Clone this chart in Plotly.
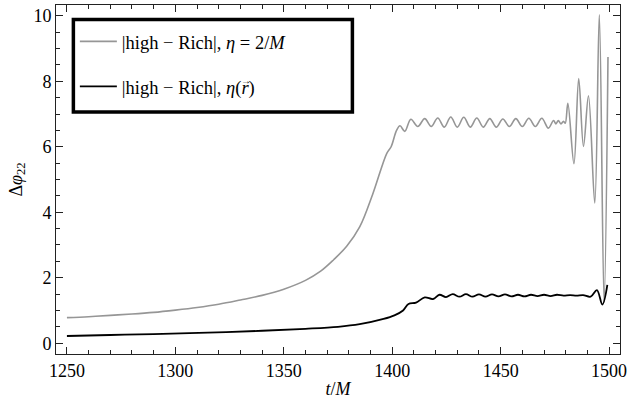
import plotly.graph_objects as go

# Gray series: |high - Rich|, eta = 2/M
t_gray = [1250, 1260, 1270, 1280, 1290, 1300, 1310, 1320, 1330, 1340, 1350, 1360,
          1367, 1373, 1379, 1385, 1391, 1397.5, 1399.5, 1402, 1403.6, 1405.8, 1408.6,
          1411.8, 1415, 1418, 1421, 1424, 1427, 1430, 1433, 1436, 1439, 1442, 1445,
          1448, 1451, 1454, 1457, 1460, 1463, 1466, 1469, 1472, 1474.4, 1475.5, 1476.6,
          1477.8, 1479, 1479.8, 1481, 1483.8, 1486, 1488.2, 1490.5, 1493.4, 1495.5,
          1497.7, 1499.5]
v_gray = [0.78, 0.81, 0.85, 0.89, 0.94, 1.01, 1.09, 1.19, 1.32, 1.46, 1.65, 1.92,
          2.2, 2.55, 2.96, 3.55, 4.55, 5.8, 6.0, 6.5, 6.64, 6.47, 6.84,
          6.62, 6.86, 6.62, 6.88, 6.6, 6.91, 6.6, 6.9, 6.6, 6.88, 6.6, 6.86,
          6.6, 6.85, 6.62, 6.86, 6.62, 6.87, 6.62, 6.87, 6.57, 6.8, 6.7, 6.8,
          6.7, 6.78, 6.72, 7.33, 5.48, 8.08, 6.01, 7.56, 4.28, 10.03,
          1.25, 8.74]

# Black series: |high - Rich|, eta(r)
t_black = [1250, 1270, 1290, 1315, 1340, 1360, 1375, 1385, 1396, 1401, 1405, 1407.5,
           1411, 1415, 1418.8, 1421.8, 1424.8, 1427.9, 1431, 1434, 1437, 1440, 1443,
           1446, 1449, 1452, 1455, 1458, 1461, 1464, 1467, 1470, 1473, 1476, 1479,
           1482, 1485, 1488, 1491.5, 1494.4, 1496.9, 1499.2]
v_black = [0.22, 0.25, 0.28, 0.32, 0.38, 0.44, 0.5, 0.58, 0.74, 0.85, 1.0, 1.2,
           1.24, 1.4, 1.35, 1.48, 1.41, 1.5, 1.42, 1.5, 1.42, 1.49, 1.42,
           1.49, 1.43, 1.49, 1.43, 1.48, 1.43, 1.48, 1.44, 1.48, 1.44, 1.48, 1.45,
           1.47, 1.45, 1.47, 1.42, 1.62, 1.18, 1.78]

x_ticks = [1250, 1300, 1350, 1400, 1450, 1500]
y_ticks = [0, 2, 4, 6, 8, 10]

name_gray = "|high − Rich|, <i>η</i> = 2/<i>M</i>"
name_black = "|high − Rich|, <i>η</i>(<i>r</i>)"

FONT = "Liberation Serif"

fig = go.Figure()
fig.add_trace(go.Scatter(x=t_gray, y=v_gray, mode="lines", name=name_gray,
                         line=dict(color="rgb(150,150,150)", width=1.6, shape="spline", smoothing=1.0),
                         legendgroup="a"))
fig.add_trace(go.Scatter(x=t_black, y=v_black, mode="lines", name=name_black,
                         line=dict(color="black", width=1.8, shape="spline", smoothing=1.0),
                         legendgroup="b"))

axis_common = dict(showline=True, linecolor="#222", linewidth=1, mirror="allticks",
                   ticks="inside", ticklen=7, tickwidth=1, tickcolor="#222",
                   showgrid=False, zeroline=False,
                   tickfont=dict(family=FONT, size=18, color="black"))

fig.update_xaxes(range=[1244.96, 1505.04], tickvals=x_ticks,
                 minor=dict(dtick=10, tick0=1250, ticks="inside", ticklen=4, tickcolor="#222", showgrid=False),
                 title=dict(text="<i>t</i>/<i>M</i>", font=dict(family=FONT, size=18, color="black"), standoff=2),
                 **axis_common)
fig.update_yaxes(range=[-0.33, 10.33], tickvals=y_ticks,
                 minor=dict(dtick=0.5, tick0=0, ticks="inside", ticklen=4, tickcolor="#222", showgrid=False),
                 title=dict(text="Δ<i>φ</i><sub>22</sub>", font=dict(family=FONT, size=18, color="black"), standoff=6),
                 **axis_common)

PL, PT, PW, PH = 56, 4, 568, 351
fig.add_shape(type="rect", xref="paper", yref="paper",
              x0=(73.5 - PL) / PW, x1=(354.5 - PL) / PW,
              y0=1 - (111.5 - PT) / PH, y1=1 - (18.5 - PT) / PH,
              line=dict(color="black", width=3.5), fillcolor="white", layer="below")

# vector arrow over the r in the second legend entry
fig.add_annotation(text="→", xref="paper", yref="paper",
                   x=(247.5 - PL) / PW, y=1 - (80 - PT) / PH,
                   xanchor="center", yanchor="middle", showarrow=False,
                   font=dict(family=FONT, size=10, color="black"))

fig.update_layout(
    width=631, height=399,
    margin=dict(l=PL, r=631 - PL - PW, t=PT, b=399 - PT - PH),
    paper_bgcolor="white", plot_bgcolor="white",
    showlegend=True,
    legend=dict(x=(75 - PL) / PW, y=1 - (22 - PT) / PH, xanchor="left", yanchor="top",
                bgcolor="rgba(0,0,0,0)", borderwidth=0,
                font=dict(family=FONT, size=18.5, color="black"),
                tracegroupgap=18, traceorder="grouped", itemwidth=37),
)

fig.write_html("out.html")
